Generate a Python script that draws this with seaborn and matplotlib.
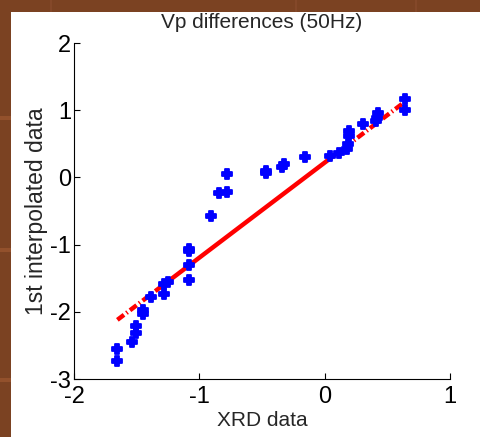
import matplotlib
matplotlib.use("Agg")
import matplotlib.pyplot as plt
import seaborn as sns
import pandas as pd
from matplotlib.patches import Rectangle

# Sorted sample pairs of the Q-Q plot
xrd = [-1.654, -1.654, -1.535, -1.508, -1.508, -1.447, -1.447, -1.388,
       -1.279, -1.279, -1.252, -1.085, -1.085, -1.085, -1.080, -0.909,
       -0.843, -0.776, -0.776, -0.468, -0.468, -0.340, -0.324, -0.156,
       0.043, 0.115, 0.176, 0.190, 0.195, 0.195, 0.309, 0.408,
       0.415, 0.424, 0.642, 0.642]
interp = [-2.73, -2.56, -2.45, -2.32, -2.21, -2.04, -1.98, -1.78,
          -1.73, -1.59, -1.55, -1.53, -1.30, -1.10, -1.07, -0.575,
          -0.237, -0.22, 0.05, 0.07, 0.10, 0.15, 0.20, 0.30,
          0.32, 0.37, 0.43, 0.50, 0.62, 0.69, 0.80, 0.84,
          0.88, 0.96, 1.00, 1.17]

# Reference line: extremes and quartile points
line_x = [-1.654, -1.31, 0.06, 0.642]
line_y = [-2.12, -1.633, 0.305, 1.128]

xticks = [-2, -1, 0, 1]
yticks = [-3, -2, -1, 0, 1, 2]

sns.set_style("white")
plt.rcParams["font.family"] = ["Liberation Sans", "DejaVu Sans"]
plt.rcParams["lines.scale_dashes"] = False

fig = plt.figure(figsize=(4.81, 4.37), dpi=100)
fig.patch.set_facecolor("#7b4222")

# slide backdrop: faint seams and the white panel
for yy in [118, 250, 380]:
    fig.add_artist(Rectangle((0, 1 - (yy + 2) / 437), 11 / 481, 4 / 437,
                             transform=fig.transFigure, color="#93512c",
                             lw=0, zorder=-10))
for xx in [50, 295, 415]:
    fig.add_artist(Rectangle((xx / 481, 1 - 12 / 437), 2 / 481, 12 / 437,
                             transform=fig.transFigure, color="#844829",
                             lw=0, zorder=-10))
fig.add_artist(Rectangle((11 / 481, 0), 470 / 481, 1 - 12 / 437,
                         transform=fig.transFigure, color="white", lw=0,
                         zorder=-9))

ax = fig.add_axes([74 / 481, 1 - 379 / 437, 376 / 481, 336 / 437])
ax.set_facecolor("none")

df = pd.DataFrame({"xrd": xrd, "interp": interp})
sns.scatterplot(data=df, x="xrd", y="interp", ax=ax, marker="P", s=46,
                color="#0000ff", edgecolor="#0000ff", linewidth=1.3, zorder=3)

ld = pd.DataFrame({"x": line_x, "y": line_y})
sns.lineplot(x=ld["x"][:2], y=ld["y"][:2], ax=ax, color="#ff0000", lw=3.2,
             sort=False, estimator=None, zorder=2)
ax.lines[-1].set_dashes((6, 2.2, 1, 2.2))
sns.lineplot(x=ld["x"][1:3], y=ld["y"][1:3], ax=ax, color="#ff0000", lw=3.2,
             sort=False, estimator=None, zorder=2)
sns.lineplot(x=ld["x"][2:], y=ld["y"][2:], ax=ax, color="#ff0000", lw=3.2,
             sort=False, estimator=None, zorder=2)
ax.lines[-1].set_dashes((6, 2.2, 1, 2.2))

ax.set_xlim(-2, 1)
ax.set_ylim(-3, 2)
ax.set_xticks(xticks)
ax.set_yticks(yticks)
ax.set_xticklabels([str(t) for t in xticks])
ax.set_yticklabels([str(t) for t in yticks])
ax.tick_params(direction="in", length=4, width=0.8, colors="black",
               labelsize=17, pad=2)
ax.tick_params(axis="x", pad=5)
ax.tick_params(axis="both", which="both", bottom=True, left=True)
for side in ["top", "right"]:
    ax.spines[side].set_visible(False)
for side in ["left", "bottom"]:
    ax.spines[side].set_color("black")
    ax.spines[side].set_linewidth(0.8)

ax.set_title("Vp differences (50Hz)", fontsize=15, pad=11)
ax.set_xlabel("XRD data", fontsize=15, labelpad=2)
ax.set_ylabel("1st interpolated data", fontsize=16.5, labelpad=2)

fig.savefig("out.png", dpi=100, facecolor=fig.get_facecolor())
